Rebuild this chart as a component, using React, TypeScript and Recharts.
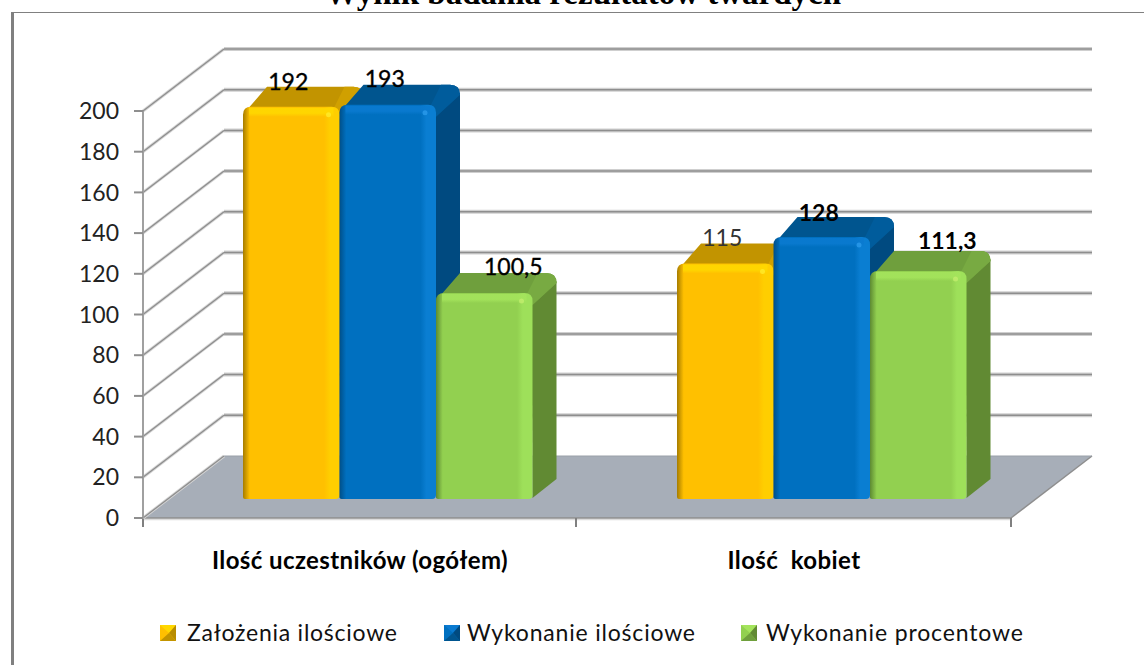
import React from "react";
import { BarChart, Bar, XAxis, YAxis, CartesianGrid, Legend, LabelList } from "recharts";

const categories = ["Ilość uczestników (ogółem)", "Ilość  kobiet"];
const zalozenia = [192, 115];
const wykonanie = [193, 128];
const procent = [100.5, 111.3];
const yTicks = [0, 20, 40, 60, 80, 100, 120, 140, 160, 180, 200];
const titleText = "Wynik badania rezultatów twardych";
const seriesNames = ["Założenia ilościowe", "Wykonanie ilościowe", "Wykonanie procentowe"];

const data = categories.map((name, i) => ({
  name,
  a: zalozenia[i],
  b: wykonanie[i],
  c: procent[i],
}));

const FONT = "Lato, 'Open Sans', sans-serif";
const DX = 81;
const DY = -62;
const BAR_DX = 28;
const BAR_DY = -19;
const SIDE_X = 24;
const SIDE_Y = -20;

const palettes: any = {
  a: { id: "a", base: "#ffc000", dark: "#a67c00", light: "#ffce00", band: "#ffd800", top: "#c29400", side: "#b88c00", corner: "#d0a000", hi: "#ffee30" },
  b: { id: "b", base: "#0070c0", dark: "#004f88", light: "#0a7ed2", band: "#0a7ad0", top: "#00558f", side: "#004a80", corner: "#005c9c", hi: "#30a0f0" },
  c: { id: "c", base: "#92d050", dark: "#5d8a32", light: "#9ee05a", band: "#a4e45c", top: "#6f9f3d", side: "#618a33", corner: "#78aa42", hi: "#c8f070" },
};

function Grad({ p }: { p: any }) {
  return (
    <defs>
      <linearGradient id={`face-${p.id}`} x1="0" x2="1" y1="0" y2="0">
        <stop offset="0" stopColor={p.dark} />
        <stop offset="0.07" stopColor={p.base} />
        <stop offset="0.84" stopColor={p.base} />
        <stop offset="0.9" stopColor={p.light} />
        <stop offset="1" stopColor={p.light} />
      </linearGradient>
      <linearGradient id={`band-${p.id}`} x1="0" x2="0" y1="0" y2="1">
        <stop offset="0" stopColor={p.band} stopOpacity="0.9" />
        <stop offset="0.6" stopColor={p.band} stopOpacity="0.9" />
        <stop offset="1" stopColor={p.band} stopOpacity="0" />
      </linearGradient>
    </defs>
  );
}

function makeShape(key: string) {
  const p = palettes[key];
  return function Shape(props: any) {
    const { x, y, width, height } = props;
    const fx = x + BAR_DX;
    const fy = y + BAR_DY - 1.5;
    const h = height + 1.5;
    const r = 8;
    const R = 10;
    const right = fx + width;
    const bottom = fy + h;
    const bx = right + SIDE_X;
    const by = fy + SIDE_Y;
    const body = `M${right - r},${fy} L${fx + r},${fy} Q${fx},${fy} ${fx},${fy + r} L${fx},${bottom - 2} Q${fx},${bottom} ${fx + 2},${bottom} L${right - 4},${bottom} Q${right},${bottom} ${right},${bottom - 4} L${right},${fy + r} Q${right},${fy} ${right - r},${fy} Z`;
    const top = `M${fx + 4},${fy + 3} L${fx + SIDE_X},${by} L${bx - R},${by} Q${bx},${by} ${bx},${by + R} L${right},${fy + r + 4} L${right - 4},${fy + 3} Z`;
    const side = `M${right - 1},${fy + r} L${bx},${by + R - 2} L${bx},${bottom + SIDE_Y} L${right},${bottom - 1} Z`;
    const corner = `M${right - 6},${fy + 2} L${bx - 19},${by} L${bx - R},${by} Q${bx},${by} ${bx},${by + R} L${right},${fy + r + 4} Z`;
    return (
      <g>
        <Grad p={p} />
        <path d={side} fill={p.side} />
        <path d={top} fill={p.top} />
        <path d={corner} fill={p.corner} />
        <path d={body} fill={`url(#face-${p.id})`} />
        <rect x={fx + 6} y={fy + 1} width={width - 12} height={9} fill={`url(#band-${p.id})`} />
        <circle cx={right - 11} cy={fy + 8} r={2.5} fill={p.hi} opacity={0.7} />
      </g>
    );
  };
}

const labelOffsets: any = {
  a: [{ dx: 25, dy: -18 }, { dx: 25, dy: -19 }],
  b: [{ dx: 25, dy: -19 }, { dx: 25, dy: -18 }],
  c: [{ dx: 57, dy: -19 }, { dx: 57, dy: -24 }],
};
const labelWeights: any = {
  a: [500, 300],
  b: [500, 700],
  c: [500, 700],
};

function makeLabel(key: string) {
  return function Lbl(props: any) {
    const { x, y, width, value, index } = props;
    const o = labelOffsets[key][index];
    const w = labelWeights[key][index];
    return (
      <text
        x={x + width / 2 + o.dx}
        y={y + BAR_DY + o.dy}
        textAnchor="middle"
        fontFamily={FONT}
        fontSize={23}
        fontWeight={w === 700 ? 700 : 400}
        fill={w === 300 ? "#333" : "#000"}
        stroke={w === 500 ? "#000" : "none"}
        strokeWidth={w === 500 ? 0.35 : 0}
      >
        {String(value).replace(".", ",")}
      </text>
    );
  };
}

function gridLine(props: any) {
  const { x1, y1, x2, index } = props;
  const isFloor = Math.abs(y1 - 518) < 1;
  const backY = y1 + DY;
  const c = "#8e8e8e";
  const mid = (x1 + x2) / 2 - 1;
  return (
    <g key={`g-${index}`}>
      {isFloor && (
        <g>
          <polygon
            points={`${x1},${y1} ${x1 + DX},${backY} ${x2 + DX},${backY} ${x2},${y1}`}
            fill="#a7aeb8"
          />
          <line x1={x2} y1={y1} x2={x2 + DX} y2={backY} stroke={c} strokeWidth={1.5} />
          <line x1={x1 + DX} y1={backY} x2={x2 + DX} y2={backY} stroke="#9aa0a8" strokeWidth={1} />
          <line x1={x1} y1={y1 + 1.5} x2={x2} y2={y1 + 1.5} stroke="#dcdcdc" strokeWidth={1.5} />
          <line x1={x1} y1={y1} x2={x2} y2={y1} stroke={c} strokeWidth={1.5} />
          <line x1={x1} y1={y1} x2={x1} y2={y1 + 9} stroke="#808080" strokeWidth={2} />
          <line x1={mid} y1={y1} x2={mid} y2={y1 + 9} stroke="#808080" strokeWidth={2} />
          <line x1={x2} y1={y1} x2={x2} y2={y1 + 9} stroke="#808080" strokeWidth={2} />
        </g>
      )}
      <line x1={x1} y1={y1} x2={x1 + DX} y2={backY} stroke="#d6d6d6" strokeWidth={3} />
      <line x1={x1} y1={y1} x2={x1 + DX} y2={backY} stroke={c} strokeWidth={1.3} />
      {!isFloor && (
        <g>
          <line x1={x1 + DX} y1={backY} x2={x2 + DX} y2={backY} stroke="#cfcfcf" strokeWidth={4} />
          <line x1={x1 + DX} y1={backY} x2={x2 + DX} y2={backY} stroke={c} strokeWidth={1.5} />
        </g>
      )}
    </g>
  );
}

function Icon({ x, y, p }: { x: number; y: number; p: any }) {
  const s = 16;
  const c = [x + s / 2 + 1, y + s / 2];
  return (
    <g>
      <rect x={x} y={y} width={s} height={s} fill={p.base} />
      <polygon points={`${x},${y} ${x + s},${y} ${c[0]},${c[1]}`} fill={p.band} />
      <polygon points={`${x + s},${y} ${x + s},${y + s} ${c[0]},${c[1]}`} fill={p.side} />
      <polygon points={`${x},${y + s} ${x + s},${y + s} ${c[0]},${c[1]}`} fill={p.top} />
    </g>
  );
}

const legendLayout = [
  { key: "a", ix: 160, tx: 187, len: 210 },
  { key: "b", ix: 444, tx: 467, len: 228 },
  { key: "c", ix: 741, tx: 766, len: 257 },
];

function LegendBox() {
  return (
    <svg width={1144} height={30} style={{ display: "block" }}>
      {legendLayout.map((l, i) => (
        <g key={l.key}>
          <Icon x={l.ix} y={7} p={palettes[l.key]} />
          <text x={l.tx} y={23} fontFamily={FONT} fontSize={23} fill="#111" textLength={l.len} lengthAdjust="spacing">
            {seriesNames[i]}
          </text>
        </g>
      ))}
    </svg>
  );
}

function XTick(props: any) {
  const { x, payload } = props;
  return (
    <text
      x={x}
      y={569}
      textAnchor="middle"
      fontFamily={FONT}
      fontSize={24}
      fontWeight={700}
      letterSpacing={0.4}
      fill="#000"
      style={{ whiteSpace: "pre" }}
    >
      {payload.value}
    </text>
  );
}

export default function App() {
  return (
    <div style={{ position: "absolute", left: 0, top: 0, width: 1144, height: 666, overflow: "hidden", background: "#fff" }}>
      <div
        style={{
          position: "absolute",
          left: 11,
          top: 12,
          width: 1133,
          height: 653,
          borderLeft: "3px solid #808080",
          borderTop: "1.5px solid #808080",
          boxSizing: "border-box",
        }}
      />
      <div
        style={{
          position: "absolute",
          left: 0,
          width: 1166,
          top: -26,
          textAlign: "center",
          fontFamily: "'Liberation Serif', serif",
          fontWeight: 700,
          fontSize: 33,
          lineHeight: "38px",
          color: "#000",
          whiteSpace: "nowrap",
        }}
      >
        {titleText}
      </div>
      <div style={{ position: "absolute", left: 0, top: 0 }}>
        <BarChart
          width={1144}
          height={666}
          data={data}
          margin={{ top: 111, right: 133, bottom: 18, left: 83 }}
          barGap={0}
          barSize={96.5}
        >
          <CartesianGrid vertical={false} horizontal={gridLine as any} />
          <XAxis dataKey="name" height={100} axisLine={false} tickLine={false} tick={<XTick />} interval={0} />
          <YAxis
            width={60}
            domain={[0, 200]}
            ticks={yTicks}
            interval={0}
            tickSize={9}
            tickMargin={15}
            axisLine={{ stroke: "#a0a0a0", strokeWidth: 2 }}
            tickLine={{ stroke: "#8e8e8e", strokeWidth: 2 }}
            tick={{ fontFamily: FONT, fontSize: 23, fill: "#222" }}
          />
          <Legend
            verticalAlign="bottom"
            content={<LegendBox />}
            wrapperStyle={{ left: 0, width: 1144, height: 30 }}
          />
          <Bar dataKey="a" name={seriesNames[0]} shape={makeShape("a")} isAnimationActive={false}>
            <LabelList dataKey="a" content={makeLabel("a") as any} />
          </Bar>
          <Bar dataKey="b" name={seriesNames[1]} shape={makeShape("b")} isAnimationActive={false}>
            <LabelList dataKey="b" content={makeLabel("b") as any} />
          </Bar>
          <Bar dataKey="c" name={seriesNames[2]} shape={makeShape("c")} isAnimationActive={false}>
            <LabelList dataKey="c" content={makeLabel("c") as any} />
          </Bar>
        </BarChart>
      </div>
    </div>
  );
}
